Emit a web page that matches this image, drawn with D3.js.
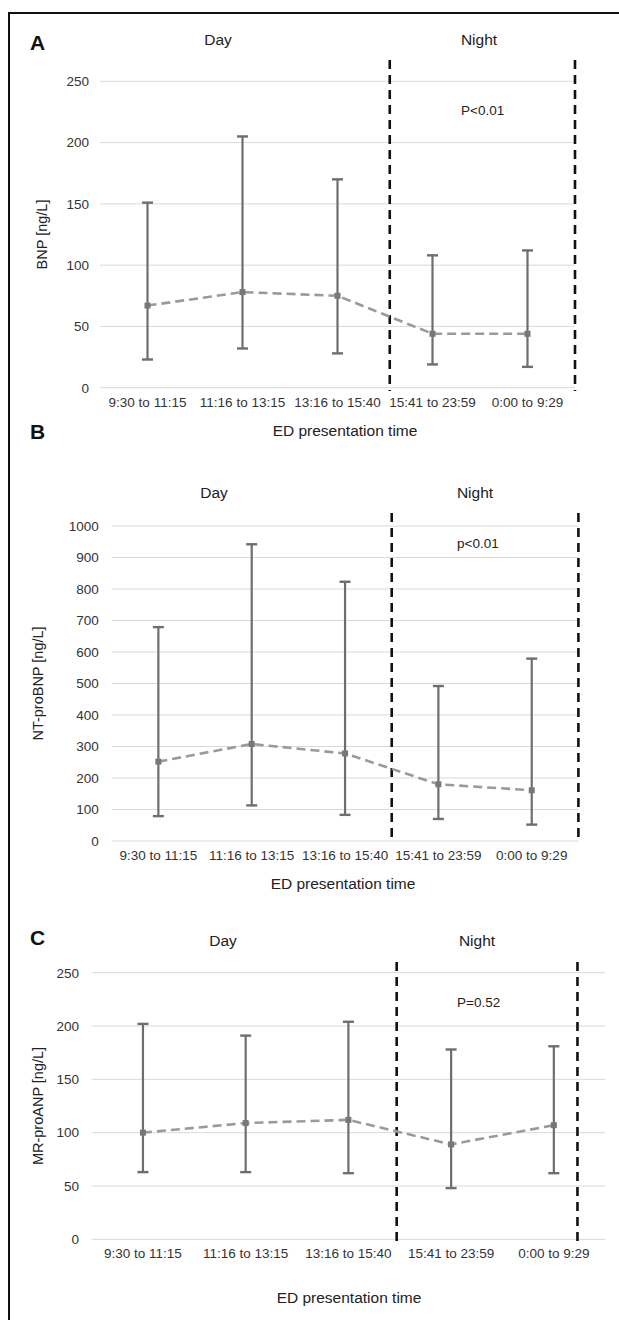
<!DOCTYPE html>
<html>
<head>
<meta charset="utf-8">
<script src="https://cdn.jsdelivr.net/npm/d3@7"></script>
<style>
  html, body { margin: 0; padding: 0; background: #fff; }
  svg { display: block; font-family: "Liberation Sans", Arial, sans-serif; }
</style>
</head>
<body>
<div id="chart"></div>
<script>
// ED presentation time vs natriuretic peptides, median with IQR bars

const categories = ['9:30 to 11:15', '11:16 to 13:15', '13:16 to 15:40', '15:41 to 23:59', '0:00 to 9:29'];

// A: BNP
const bnpMedian = [67, 78, 75, 44, 44];
const bnpLow = [23, 32, 28, 19, 17];
const bnpHigh = [151, 205, 170, 108, 112];
const bnpTicks = [0, 50, 100, 150, 200, 250];

// B: NT-proBNP
const ntMedian = [252, 308, 278, 180, 161];
const ntLow = [79, 113, 83, 70, 52];
const ntHigh = [679, 942, 823, 492, 579];
const ntTicks = [0, 100, 200, 300, 400, 500, 600, 700, 800, 900, 1000];

// C: MR-proANP
const mrMedian = [100, 109, 112, 89, 107];
const mrLow = [63, 63, 62, 48, 62];
const mrHigh = [202, 191, 204, 178, 181];
const mrTicks = [0, 50, 100, 150, 200, 250];

const periodLabels = ['Day', 'Night'];
const pLabels = ['P<0.01', 'p<0.01', 'P=0.52'];
const yTitles = ['BNP [ng/L]', 'NT-proBNP [ng/L]', 'MR-proANP [ng/L]'];
const panelLetters = ['A', 'B', 'C'];
// night window edges, in category units (0 = left edge of first band)
const nightEdges = [[3.05, 5], [3, 5], [2.97, 4.73]];

const width = 619, height = 1320;

// layout of each panel (pixels)
const layouts = [
  { x0: 100, x1: 575, yTop: 81.3, yBot: 387.7, letterY: 50, periodY: 45, dayX: 218, nightX: 479,
    tickRight: 89, yTitleX: 42, xTickY: 19, xTitleX: 345, xTitleY: 435.7, pX: 461, pY: 115, dashTop: 60, dashBot: 391 },
  { x0: 111.7, x1: 578.4, yTop: 526, yBot: 841, letterY: 439, periodY: 498, dayX: 214, nightX: 475,
    tickRight: 98.7, yTitleX: 38, xTickY: 19, xTitleX: 343, xTitleY: 889, pX: 457, pY: 548, dashTop: 513, dashBot: 843 },
  { x0: 91.6, x1: 605.2, yTop: 972.7, yBot: 1239.3, letterY: 945, periodY: 946, dayX: 223, nightX: 477,
    tickRight: 79, yTitleX: 38, xTickY: 19, xTitleX: 349, xTitleY: 1303, pX: 457, pY: 1007, dashTop: 962, dashBot: 1241 }
];

const series = [
  { median: bnpMedian, low: bnpLow, high: bnpHigh, ticks: bnpTicks },
  { median: ntMedian, low: ntLow, high: ntHigh, ticks: ntTicks },
  { median: mrMedian, low: mrLow, high: mrHigh, ticks: mrTicks }
];

const svg = d3.select('#chart').append('svg')
  .attr('width', width)
  .attr('height', height);

// outer frame (right and bottom edges run off the picture)
svg.append('rect')
  .attr('x', 9).attr('y', 13)
  .attr('width', width + 20).attr('height', height + 20)
  .attr('fill', 'none')
  .attr('stroke', '#111')
  .attr('stroke-width', 2);

series.forEach((s, i) => {
  const L = layouts[i];
  const g = svg.append('g');
  const yMax = s.ticks[s.ticks.length - 1];

  const x = d3.scaleBand().domain(categories).range([L.x0, L.x1]);
  const xi = d3.scaleLinear().domain([0, categories.length]).range([L.x0, L.x1]);
  const y = d3.scaleLinear().domain([0, yMax]).range([L.yBot, L.yTop]);
  const cx = d => x(d) + x.bandwidth() / 2;

  // gridlines
  g.append('g').selectAll('line')
    .data(s.ticks)
    .join('line')
    .attr('x1', L.x0).attr('x2', L.x1)
    .attr('y1', d => y(d)).attr('y2', d => y(d))
    .attr('stroke', '#d9d9d9')
    .attr('stroke-width', 1);

  // y axis labels
  const yAxis = g.append('g')
    .attr('transform', `translate(${L.x0},0)`)
    .call(d3.axisLeft(y).tickValues(s.ticks).tickFormat(d3.format('d'))
      .tickSize(0).tickPadding(L.x0 - L.tickRight));
  yAxis.select('.domain').remove();
  yAxis.selectAll('text').attr('font-size', 13.5).attr('fill', '#333').attr('font-family', null);

  // x axis labels
  const xAxis = g.append('g')
    .attr('transform', `translate(0,${L.yBot})`)
    .call(d3.axisBottom(x).tickSize(0));
  xAxis.select('.domain').remove();
  xAxis.selectAll('text')
    .attr('y', L.xTickY).attr('dy', 0)
    .attr('font-size', 13.5).attr('fill', '#333').attr('font-family', null);

  // night window boundaries
  g.append('g').selectAll('line')
    .data(nightEdges[i])
    .join('line')
    .attr('x1', d => xi(d)).attr('x2', d => xi(d))
    .attr('y1', L.dashTop).attr('y2', L.dashBot)
    .attr('stroke', '#111')
    .attr('stroke-width', 2.6)
    .attr('stroke-dasharray', '9,6');

  const pts = categories.map((c, k) => ({ c, m: s.median[k], lo: s.low[k], hi: s.high[k] }));

  // error bars
  const eb = g.append('g').selectAll('g').data(pts).join('g');
  eb.append('line')
    .attr('x1', d => cx(d.c)).attr('x2', d => cx(d.c))
    .attr('y1', d => y(d.lo)).attr('y2', d => y(d.hi))
    .attr('stroke', '#6e6e6e').attr('stroke-width', 2.2);
  ['lo', 'hi'].forEach(k => {
    eb.append('line')
      .attr('x1', d => cx(d.c) - 5.5).attr('x2', d => cx(d.c) + 5.5)
      .attr('y1', d => y(d[k])).attr('y2', d => y(d[k]))
      .attr('stroke', '#6e6e6e').attr('stroke-width', 2.4);
  });

  // median trend
  g.append('path')
    .datum(pts)
    .attr('d', d3.line().x(d => cx(d.c)).y(d => y(d.m)))
    .attr('fill', 'none')
    .attr('stroke', '#9a9a9a')
    .attr('stroke-width', 2.6)
    .attr('stroke-dasharray', '9,5');

  g.append('g').selectAll('rect')
    .data(pts)
    .join('rect')
    .attr('x', d => cx(d.c) - 3).attr('y', d => y(d.m) - 3)
    .attr('width', 6).attr('height', 6)
    .attr('fill', '#777');

  // texts
  g.append('text')
    .attr('x', 30).attr('y', L.letterY)
    .attr('font-size', 21).attr('font-weight', 'bold').attr('fill', '#111')
    .text(panelLetters[i]);

  g.append('text')
    .attr('x', L.dayX).attr('y', L.periodY)
    .attr('text-anchor', 'middle').attr('font-size', 15.5).attr('fill', '#222')
    .text(periodLabels[0]);
  g.append('text')
    .attr('x', L.nightX).attr('y', L.periodY)
    .attr('text-anchor', 'middle').attr('font-size', 15.5).attr('fill', '#222')
    .text(periodLabels[1]);

  g.append('text')
    .attr('x', L.pX).attr('y', L.pY)
    .attr('font-size', 13.5).attr('fill', '#222')
    .text(pLabels[i]);

  g.append('text')
    .attr('transform', `translate(${L.yTitleX},${(L.yTop + L.yBot) / 2}) rotate(-90)`)
    .attr('text-anchor', 'middle').attr('dy', '0.35em')
    .attr('font-size', 14.5).attr('fill', '#222')
    .text(yTitles[i]);

  g.append('text')
    .attr('x', L.xTitleX).attr('y', L.xTitleY)
    .attr('text-anchor', 'middle').attr('font-size', 15.5).attr('fill', '#222')
    .text('ED presentation time');
});
</script>
</body>
</html>
